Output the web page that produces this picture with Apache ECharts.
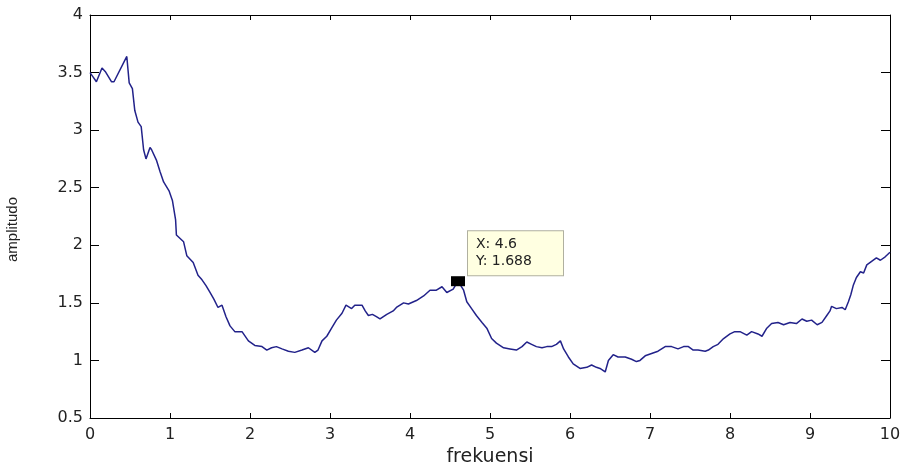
<!DOCTYPE html>
<html>
<head>
<meta charset="utf-8">
<script src="https://cdn.jsdelivr.net/npm/echarts@6/dist/echarts.min.js"></script>
<style>html,body{margin:0;padding:0;background:#fff}#c{width:907px;height:466px}</style>
</head>
<body>
<div id="c"></div>
<script>
const freq = [0, 0.04, 0.08, 0.15, 0.19, 0.27, 0.30, 0.46, 0.49, 0.53, 0.56, 0.60, 0.64, 0.67, 0.70, 0.75, 0.77, 0.83, 0.875, 0.92, 0.99, 1.03, 1.07, 1.08, 1.17, 1.21, 1.29, 1.35, 1.40, 1.45, 1.50, 1.55, 1.60, 1.65, 1.70, 1.75, 1.81, 1.90, 1.98, 2.06, 2.15, 2.21, 2.27, 2.33, 2.40, 2.48, 2.56, 2.65, 2.73, 2.81, 2.85, 2.90, 2.96, 3.02, 3.08, 3.15, 3.20, 3.27, 3.31, 3.40, 3.44, 3.48, 3.53, 3.58, 3.625, 3.71, 3.79, 3.83, 3.92, 3.98, 4.08, 4.17, 4.25, 4.33, 4.40, 4.46, 4.54, 4.60, 4.67, 4.71, 4.77, 4.83, 4.90, 4.96, 5.02, 5.08, 5.17, 5.25, 5.33, 5.40, 5.46, 5.52, 5.58, 5.65, 5.71, 5.77, 5.83, 5.88, 5.92, 5.98, 6.04, 6.125, 6.21, 6.27, 6.33, 6.375, 6.44, 6.48, 6.54, 6.60, 6.69, 6.77, 6.83, 6.875, 6.94, 7.02, 7.10, 7.19, 7.27, 7.35, 7.42, 7.48, 7.54, 7.60, 7.69, 7.73, 7.79, 7.85, 7.92, 8.0, 8.06, 8.125, 8.21, 8.27, 8.35, 8.40, 8.46, 8.52, 8.60, 8.67, 8.75, 8.83, 8.90, 8.96, 9.02, 9.09, 9.15, 9.21, 9.25, 9.27, 9.33, 9.40, 9.44, 9.48, 9.51, 9.54, 9.58, 9.63, 9.67, 9.71, 9.77, 9.83, 9.88, 9.94, 10.0];
const amplitudo = [3.50, 3.46, 3.42, 3.54, 3.51, 3.42, 3.42, 3.64, 3.41, 3.36, 3.17, 3.07, 3.03, 2.83, 2.75, 2.85, 2.83, 2.74, 2.64, 2.55, 2.47, 2.39, 2.22, 2.09, 2.03, 1.91, 1.85, 1.74, 1.70, 1.65, 1.59, 1.53, 1.46, 1.48, 1.38, 1.30, 1.25, 1.25, 1.17, 1.13, 1.12, 1.09, 1.11, 1.12, 1.10, 1.08, 1.07, 1.09, 1.11, 1.07, 1.09, 1.17, 1.21, 1.28, 1.35, 1.41, 1.48, 1.45, 1.48, 1.48, 1.43, 1.39, 1.40, 1.38, 1.36, 1.40, 1.43, 1.46, 1.50, 1.49, 1.52, 1.56, 1.61, 1.61, 1.64, 1.59, 1.62, 1.688, 1.61, 1.51, 1.45, 1.39, 1.33, 1.28, 1.19, 1.15, 1.11, 1.10, 1.09, 1.12, 1.16, 1.14, 1.12, 1.11, 1.12, 1.12, 1.14, 1.17, 1.10, 1.03, 0.97, 0.93, 0.94, 0.96, 0.94, 0.93, 0.90, 1.00, 1.05, 1.03, 1.03, 1.01, 0.99, 1.00, 1.04, 1.06, 1.08, 1.12, 1.12, 1.10, 1.12, 1.12, 1.09, 1.09, 1.08, 1.09, 1.12, 1.14, 1.19, 1.23, 1.25, 1.25, 1.22, 1.25, 1.23, 1.21, 1.28, 1.32, 1.33, 1.31, 1.33, 1.32, 1.36, 1.34, 1.35, 1.31, 1.33, 1.39, 1.43, 1.47, 1.45, 1.46, 1.44, 1.51, 1.57, 1.65, 1.72, 1.77, 1.76, 1.83, 1.86, 1.89, 1.87, 1.90, 1.94];
const dataTip = [4.6, 1.688];
const xTitle = 'frekuensi';
const yTitle = 'amplitudo';

const lineData = freq.map((f, i) => [f, amplitudo[i]]);
const chart = echarts.init(document.getElementById('c'));
const axisLine = { show: true, onZero: false, lineStyle: { color: '#000', width: 1 } };
const lbl = { color: '#222', fontFamily: 'DejaVu Sans', fontSize: 16 };
chart.setOption({
  animation: false,
  backgroundColor: '#fff',
  grid: { left: 90, right: 17, top: 15, bottom: 48, containLabel: false, outerBoundsMode: 'none' },
  xAxis: [
    { type: 'value', min: 0, max: 10, interval: 1, position: 'bottom',
      axisLine, splitLine: { show: false },
      axisTick: { inside: true, length: 5, lineStyle: { color: '#000' } },
      axisLabel: Object.assign({ margin: 9 }, lbl),
      name: xTitle, nameLocation: 'middle', nameGap: 26,
      nameTextStyle: { color: '#222', fontFamily: 'DejaVu Sans', fontSize: 19 } },
    { type: 'value', min: 0, max: 10, interval: 1, position: 'top',
      axisLine, splitLine: { show: false },
      axisTick: { inside: true, length: 5, lineStyle: { color: '#000' } },
      axisLabel: { show: false } }
  ],
  yAxis: [
    { type: 'value', min: 0.5, max: 4, interval: 0.5, position: 'left',
      axisLine, splitLine: { show: false },
      axisTick: { inside: true, length: 9, lineStyle: { color: '#000' } },
      axisLabel: Object.assign({ margin: 7 }, lbl),
      name: yTitle, nameLocation: 'middle', nameGap: 70,
      nameTextStyle: { color: '#222', fontFamily: 'Liberation Sans', fontSize: 15, padding: [0, 26, 0, 0] } },
    { type: 'value', min: 0.5, max: 4, interval: 0.5, position: 'right',
      axisLine, splitLine: { show: false },
      axisTick: { inside: true, length: 9, lineStyle: { color: '#000' } },
      axisLabel: { show: false } }
  ],
  series: [
    { type: 'line', data: lineData, showSymbol: false, symbol: 'none',
      lineStyle: { color: '#22228a', width: 1.5 }, z: 2 },
    { type: 'scatter', data: [dataTip], symbol: 'rect', symbolSize: [14, 10],
      itemStyle: { color: '#000', opacity: 1 }, z: 5,
      label: { show: true, position: [17, -45],
        formatter: p => 'X: ' + p.value[0] + '\nY: ' + p.value[1],
        color: '#222', fontFamily: 'DejaVu Sans', fontSize: 14, lineHeight: 17,
        backgroundColor: '#ffffe1', borderColor: '#b0b0a0', borderWidth: 1,
        padding: [5, 8, 5, 8], width: 79, align: 'left', verticalAlign: 'top' } }
  ]
});
</script>
</body>
</html>
